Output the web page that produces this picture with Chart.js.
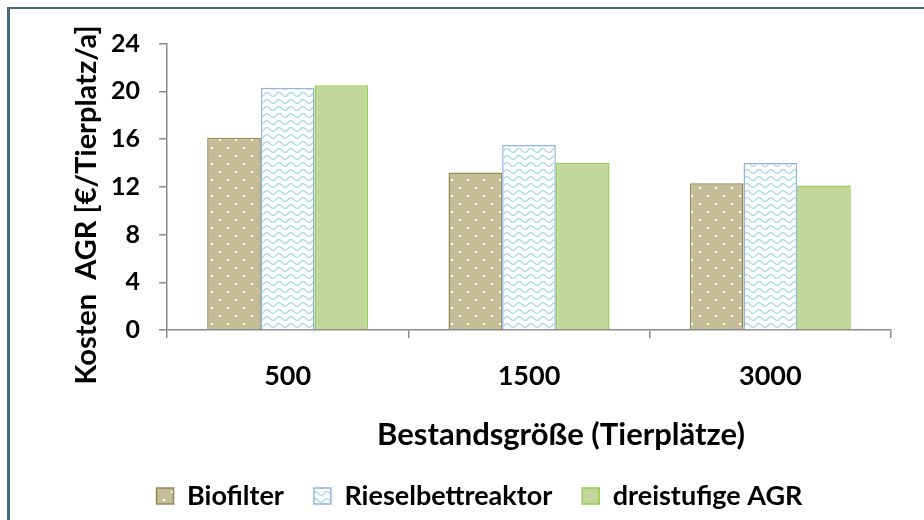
<!DOCTYPE html>
<html>
<head>
<meta charset="utf-8">
<script src="https://cdn.jsdelivr.net/npm/chart.js@4.4.1/dist/chart.umd.min.js"></script>
<style>
  html, body { margin: 0; padding: 0; background: #fff; overflow: hidden; }
  #wrap { position: relative; width: 924px; height: 520px; overflow: hidden; background: #fff; }
  #frame { position: absolute; left: 7px; top: 7px; width: 2000px; height: 2000px;
           border-left: 3px solid #41697f; border-top: 2px solid #41697f; box-sizing: border-box; }
  canvas { position: absolute; left: 0; top: 0; }
</style>
</head>
<body>
<div id="wrap">
  <div id="frame"></div>
  <canvas id="c" width="924" height="520"></canvas>
</div>
<script>
// ---- data ----
const categories = ['500', '1500', '3000'];
const seriesNames = ['Biofilter', 'Rieselbettreaktor', 'dreistufige AGR'];
const biofilter = [16.1, 13.2, 12.3];
const rieselbettreaktor = [20.3, 15.5, 14.0];
const dreistufigeAGR = [20.5, 14.0, 12.1];
const yTicks = [0, 4, 8, 12, 16, 20, 24];
const yTitle = 'Kosten  AGR [€/Tierplatz/a]';
const xTitle = 'Bestandsgröße (Tierplätze)';

const FONT = 'Lato, "Open Sans", "DejaVu Sans", sans-serif';

function dotPattern() {
  const t = document.createElement('canvas');
  t.width = 16; t.height = 16;
  const g = t.getContext('2d');
  g.fillStyle = '#c4bd97';
  g.fillRect(0, 0, 16, 16);
  g.fillStyle = '#ffffff';
  g.fillRect(3, 3, 2, 2);
  g.fillRect(11, 11, 2, 2);
  return g.createPattern(t, 'repeat');
}
function wavePattern() {
  const t = document.createElement('canvas');
  t.width = 12; t.height = 7;
  const g = t.getContext('2d');
  g.fillStyle = '#ffffff';
  g.fillRect(0, 0, 12, 7);
  g.strokeStyle = '#a9d9e6';
  g.lineWidth = 1.4;
  g.beginPath();
  for (let x = -1; x <= 13; x += 0.5) {
    const y = 3.5 - 1.9 * Math.sin(2 * Math.PI * x / 12);
    if (x === -1) g.moveTo(x, y); else g.lineTo(x, y);
  }
  g.stroke();
  return g.createPattern(t, 'repeat');
}

const titlesPlugin = {
  id: 'titles',
  afterDraw(chart) {
    const ctx = chart.ctx;
    ctx.save();
    ctx.fillStyle = '#000';
    ctx.textAlign = 'center';
    ctx.textBaseline = 'middle';
    ctx.font = 'bold 29px ' + FONT;
    ctx.translate(87, 205);
    ctx.rotate(-Math.PI / 2);
    ctx.fillText(yTitle, 0, 0);
    ctx.restore();
    ctx.save();
    ctx.fillStyle = '#000';
    ctx.textAlign = 'center';
    ctx.textBaseline = 'middle';
    ctx.font = 'bold 31px ' + FONT;
    ctx.fillText(xTitle, 561, 435);
    ctx.restore();
  }
};

new Chart(document.getElementById('c'), {
  type: 'bar',
  data: {
    labels: categories,
    datasets: [
      { label: seriesNames[0], data: biofilter, backgroundColor: dotPattern(), borderColor: '#948a54', borderWidth: 1.5 },
      { label: seriesNames[1], data: rieselbettreaktor, backgroundColor: wavePattern(), borderColor: '#8eb4e3', borderWidth: 1.5 },
      { label: seriesNames[2], data: dreistufigeAGR, backgroundColor: '#c3d69b', borderColor: '#92d050', borderWidth: 1.5 }
    ]
  },
  options: {
    responsive: false,
    animation: false,
    devicePixelRatio: 1,
    layout: { padding: { left: 68, right: 33, top: 43.5, bottom: 0.5 } },
    datasets: { bar: { categoryPercentage: 0.667, barPercentage: 1.0 } },
    scales: {
      x: {
        grid: { display: true, drawOnChartArea: false, tickLength: 8, color: '#8c8c8c', lineWidth: 1.5, offset: true },
        border: { display: true, color: '#8c8c8c', width: 1.5 },
        ticks: { color: '#000', font: { family: FONT, size: 27, weight: 'bold' }, padding: 22 },
        afterFit(s) { s.height = 122.5; }
      },
      y: {
        min: 0, max: 24,
        afterBuildTicks(s) { s.ticks = yTicks.map(v => ({ value: v })); },
        grid: { display: true, drawOnChartArea: false, tickLength: 8, color: '#8c8c8c', lineWidth: 1.5 },
        border: { display: true, color: '#8c8c8c', width: 1.5 },
        ticks: { color: '#000', font: { family: FONT, size: 25, weight: 'bold' }, padding: 19 },
        afterFit(s) { s.width = 99; }
      }
    },
    plugins: {
      legend: {
        position: 'bottom',
        labels: {
          color: '#000',
          font: { family: FONT, size: 27, weight: 'bold' },
          boxWidth: 17, boxHeight: 16, padding: 30
        }
      },
      tooltip: { enabled: false },
      title: { display: false }
    }
  },
  plugins: [titlesPlugin]
});
</script>
</body>
</html>
